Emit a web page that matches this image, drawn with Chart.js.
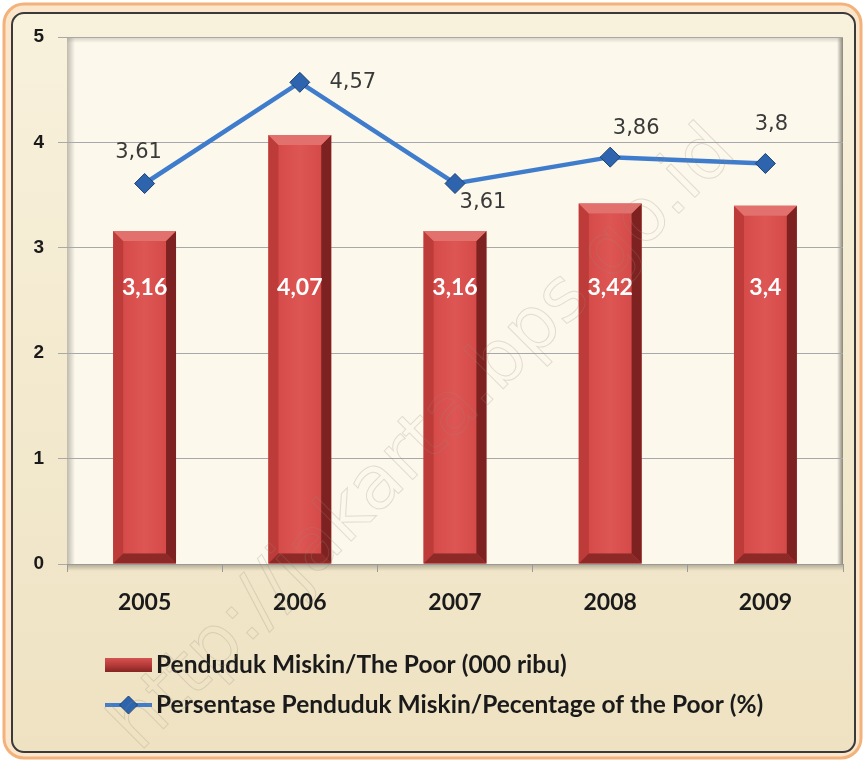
<!DOCTYPE html>
<html><head><meta charset="utf-8">
<script src="https://cdn.jsdelivr.net/npm/chart.js@4"></script>
<style>html,body{margin:0;padding:0;background:#fff}canvas{display:block}</style>
</head><body>
<canvas id="c" width="865" height="762"></canvas>
<script>
const years = ['2005', '2006', '2007', '2008', '2009'];
const poorCount = [3.16, 4.07, 3.16, 3.42, 3.4];
const poorPct = [3.61, 4.57, 3.61, 3.86, 3.8];
const barLabelText = ['3,16', '4,07', '3,16', '3,42', '3,4'];
const pctLabelText = ['3,61', '4,57', '3,61', '3,86', '3,8'];
const seriesNames = ['Penduduk Miskin/The Poor (000 ribu)', 'Persentase Penduduk Miskin/Pecentage of the Poor (%)'];
const yMin = 0, yMax = 5, yStep = 1;

// label placement (pixel nudges relative to each point), layout only
const pctLabelNudge = [[-6, -31], [53, 0], [28, 19], [26, -29], [6, -39]];
const BAR_LABEL_LEVEL = 2.62;
const FONT = 'Lato, "Open Sans", sans-serif';

function rr(ctx, x, y, w, h, r) {
  ctx.beginPath();
  ctx.moveTo(x + r, y);
  ctx.arcTo(x + w, y, x + w, y + h, r);
  ctx.arcTo(x + w, y + h, x, y + h, r);
  ctx.arcTo(x, y + h, x, y, r);
  ctx.arcTo(x, y, x + w, y, r);
  ctx.closePath();
}

const bgPlugin = {
  id: 'bg',
  beforeDraw(chart) {
    const ctx = chart.ctx, W = chart.width, H = chart.height;
    ctx.save();
    ctx.fillStyle = '#ffffff';
    ctx.fillRect(0, 0, W, H);
    rr(ctx, 4, 4, W - 8, H - 8, 20);
    ctx.fillStyle = '#fbe6cc';
    ctx.fill();
    ctx.lineWidth = 3;
    ctx.strokeStyle = '#f2b27a';
    ctx.stroke();
    const g = ctx.createLinearGradient(0, 12, 0, H - 10);
    g.addColorStop(0, '#f8f1dc');
    g.addColorStop(1, '#eee2c2');
    rr(ctx, 12, 13, W - 22, H - 23, 12);
    ctx.fillStyle = g;
    ctx.fill();
    ctx.lineWidth = 2;
    ctx.strokeStyle = '#3a3a3a';
    ctx.stroke();
    const a = chart.chartArea;
    ctx.fillStyle = '#fcf8ec';
    ctx.fillRect(a.left, a.top, a.right - a.left, a.bottom - a.top);
    const gl = ctx.createLinearGradient(a.left, 0, a.left + 8, 0);
    gl.addColorStop(0, 'rgba(150,145,130,0.6)');
    gl.addColorStop(1, 'rgba(150,145,130,0)');
    ctx.fillStyle = gl;
    ctx.fillRect(a.left, a.top, 8, a.bottom - a.top);
    const gr = ctx.createLinearGradient(a.right - 6, 0, a.right, 0);
    gr.addColorStop(0, 'rgba(60,55,45,0)');
    gr.addColorStop(1, 'rgba(60,55,45,0.6)');
    ctx.fillStyle = gr;
    ctx.fillRect(a.right - 6, a.top, 6, a.bottom - a.top);
    const gt = ctx.createLinearGradient(0, a.top, 0, a.top + 6);
    gt.addColorStop(0, 'rgba(150,145,130,0.4)');
    gt.addColorStop(1, 'rgba(150,145,130,0)');
    ctx.fillStyle = gt;
    ctx.fillRect(a.left, a.top, a.right - a.left, 6);
    const gb = ctx.createLinearGradient(0, a.bottom, 0, a.bottom + 7);
    gb.addColorStop(0, 'rgba(120,115,100,0.55)');
    gb.addColorStop(1, 'rgba(120,115,100,0)');
    ctx.fillStyle = gb;
    ctx.fillRect(a.left, a.bottom, a.right - a.left, 7);
    ctx.restore();
  }
};

const bevelPlugin = {
  id: 'bevel',
  afterDatasetDraw(chart, args) {
    if (args.index !== 0) return;
    const ctx = chart.ctx;
    const ys = chart.scales.y;
    ctx.save();
    args.meta.data.forEach((el, i) => {
      const p = el.getProps(['x', 'y', 'base', 'width'], true);
      const L = p.x - p.width / 2, R = p.x + p.width / 2, T = p.y, B = p.base;
      const b = 10;
      const poly = (pts, c) => {
        ctx.beginPath();
        ctx.moveTo(pts[0][0], pts[0][1]);
        for (let k = 1; k < pts.length; k++) ctx.lineTo(pts[k][0], pts[k][1]);
        ctx.closePath();
        ctx.fillStyle = c;
        ctx.fill();
      };
      const fg = ctx.createLinearGradient(L, 0, R, 0);
      fg.addColorStop(0, '#d04644');
      fg.addColorStop(0.5, '#de5654');
      fg.addColorStop(1, '#cf4543');
      poly([[L + b, T + b], [R - b, T + b], [R - b, B - b], [L + b, B - b]], fg);
      poly([[L, T], [L + b, T + b], [L + b, B - b], [L, B]], '#bd3b39');
      poly([[R, T], [R - b, T + b], [R - b, B - b], [R, B]], '#7e2221');
      poly([[L, T], [R, T], [R - b, T + b], [L + b, T + b]], '#e2716e');
      poly([[L, B], [R, B], [R - b, B - b], [L + b, B - b]], '#8d2a28');
      ctx.fillStyle = '#ffffff';
      ctx.font = 'bold 23px ' + FONT;
      ctx.textAlign = 'center';
      ctx.textBaseline = 'middle';
      ctx.fillText(barLabelText[i], p.x, ys.getPixelForValue(BAR_LABEL_LEVEL));
    });
    ctx.restore();
  }
};

const overlayPlugin = {
  id: 'overlay',
  afterDraw(chart) {
    const ctx = chart.ctx;
    const meta = chart.getDatasetMeta(1);
    ctx.save();
    ctx.fillStyle = '#3a3a3a';
    ctx.font = '21px "DejaVu Sans", sans-serif';
    ctx.textBaseline = 'middle';
    ctx.textAlign = 'center';
    meta.data.forEach((pt, i) => {
      const n = pctLabelNudge[i];
      ctx.fillText(pctLabelText[i], pt.x + n[0], pt.y + n[1]);
    });
    // legend
    const lx = 105, ly1 = 665, ly2 = 705;
    const lg = ctx.createLinearGradient(0, ly1 - 8, 0, ly1 + 8);
    lg.addColorStop(0, '#d85654');
    lg.addColorStop(0.5, '#b83b39');
    lg.addColorStop(1, '#7a2220');
    ctx.fillStyle = lg;
    ctx.fillRect(lx, ly1 - 7, 47, 14);
    ctx.strokeStyle = '#3f7ccc';
    ctx.lineWidth = 4;
    ctx.beginPath();
    ctx.moveTo(lx, ly2); ctx.lineTo(lx + 47, ly2); ctx.stroke();
    ctx.beginPath();
    ctx.moveTo(lx + 23.5, ly2 - 9); ctx.lineTo(lx + 32.5, ly2); ctx.lineTo(lx + 23.5, ly2 + 9); ctx.lineTo(lx + 14.5, ly2); ctx.closePath();
    ctx.fillStyle = '#2d64ad'; ctx.fill();
    ctx.lineWidth = 1; ctx.strokeStyle = '#1c4275'; ctx.stroke();
    ctx.fillStyle = '#1a1a1a';
    ctx.font = 'bold 24.5px ' + FONT;
    ctx.textAlign = 'left';
    ctx.textBaseline = 'middle';
    ctx.fillText(seriesNames[0], lx + 51, ly1);
    ctx.fillText(seriesNames[1], lx + 51, ly2);
    // watermark
    ctx.translate(425, 440);
    ctx.rotate(-Math.PI / 4);
    ctx.font = '74px "DejaVu Sans", sans-serif';
    ctx.textAlign = 'center';
    ctx.lineWidth = 1;
    ctx.strokeStyle = 'rgba(150,140,125,0.25)';
    ctx.strokeText('http://jakarta.bps.go.id', 0, 0);
    ctx.restore();
  }
};

new Chart(document.getElementById('c'), {
  data: {
    labels: years,
    datasets: [
      {
        type: 'bar', label: seriesNames[0], data: poorCount, order: 2,
        backgroundColor: '#d04644', borderWidth: 0,
        barPercentage: 0.5, categoryPercentage: 0.81
      },
      {
        type: 'line', label: seriesNames[1], data: poorPct, order: 1,
        borderColor: '#3f7ccc', borderWidth: 4.5, tension: 0,
        pointStyle: 'rectRot', pointRadius: 10, pointHoverRadius: 10,
        pointBackgroundColor: '#2d64ad', pointBorderColor: '#1c4275', pointBorderWidth: 1
      }
    ]
  },
  options: {
    responsive: false, animation: false,
    layout: { padding: { left: 10, top: 37, right: 22, bottom: 140 } },
    plugins: { legend: { display: false }, tooltip: { enabled: false } },
    scales: {
      x: {
        grid: { display: true, drawOnChartArea: false, tickLength: 8, color: '#9a9a9a', offset: true },
        border: { display: true, color: '#9a9a9a' },
        ticks: { color: '#1a1a1a', font: { family: FONT, size: 23, weight: 'bold' }, padding: 17 },
        afterFit(s) { s.height = 58; }
      },
      y: {
        min: yMin, max: yMax,
        grid: { color: '#a8a8a8', tickLength: 9, lineWidth: 1 },
        border: { display: false },
        ticks: { stepSize: yStep, color: '#1a1a1a', font: { family: '"Liberation Sans", Arial, sans-serif', size: 19, weight: 'bold' }, padding: 14 },
        afterFit(s) { s.width = 57; }
      }
    }
  },
  plugins: [bgPlugin, bevelPlugin, overlayPlugin]
});
</script>
</body></html>
